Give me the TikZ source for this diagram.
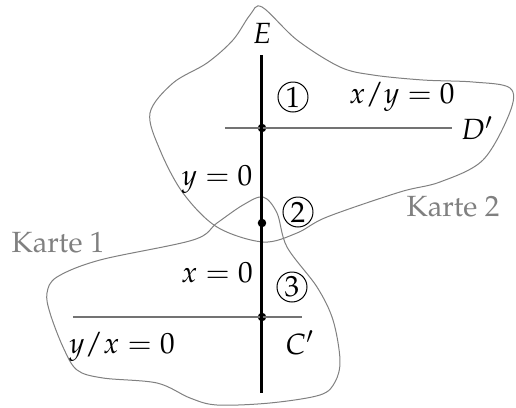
\documentclass[tikz,border=0pt]{standalone}
\usepackage[T1]{fontenc}
\usepackage{mathpazo}

\tikzset{
  >={stealth},   % Pfeilspitzen
  every node/.style={font=\fontsize{11.7}{14}\selectfont},
  karte/.style={gray, line width=0.4pt},
  achse/.style={black, line width=1.2pt},
  gerade/.style={black!55, line width=0.7pt},
  punkt/.style={circle, fill=black, inner sep=0pt, minimum size=3.4pt},
  nummer/.style={circle, draw, thin, inner sep=0.4pt, minimum size=12pt},
}

\begin{document}
\begin{tikzpicture}[x=0.4pt, y=-0.4pt]
\useasboundingbox (0,0) rectangle (516,408);

% Karte 2 (oben)
\draw[karte] plot[smooth cycle, tension=0.55] coordinates {
  (262,7) (297,40) (340,67) (373,75) (423,80) (473,82) (510,88)
  (510,112) (483,160) (440,182) (400,192) (327,217) (297,233)
  (263,242) (217,227) (183,193) (160,150) (150,113) (173,83)
  (207,63) (233,40) (250,15)};

% Karte 1 (unten)
\draw[karte] plot[smooth cycle, tension=0.55] coordinates {
  (263,197) (277,213) (287,247) (317,287) (333,320) (340,360)
  (335,382) (320,395) (270,403) (217,405) (190,398) (157,383)
  (103,378) (77,370) (63,347) (50,313) (47,293) (57,277)
  (100,260) (193,240) (217,223) (243,205)};

% Punkte auf E
\coordinate (oben) at (262,55);
\coordinate (unten) at (262,393);
\node[punkt] (p1) at (262,128) {};
\node[punkt] (p2) at (262,223) {};
\node[punkt] (p3) at (262,317) {};

% Geraden D' und C'
\coordinate (d1) at (225,128);
\coordinate (d2) at (452,128);
\coordinate (c1) at (73,317);
\coordinate (c2) at (302,317);
\draw[gerade] (d1) -- (d2);
\draw[gerade] (c1) -- (c2);

% E
\draw[achse] (oben) -- (unten);
\node (E) at (262,33) {$E$};

% Beschriftungen
\node[anchor=west] (D) at (d2) {$D'$};
\node (C) at (300,343) {$C'$};
\node (xy) at (402,97) {$x/y=0$};
\node (yx) at (122,347) {$y/x=0$};
\node (y0) at (217,180) {$y=0$};
\node (x0) at (217,273) {$x=0$};
\node[nummer] (n1) at (293,97) {1};
\node[nummer] (n2) at (298,212) {2};
\node[nummer] (n3) at (292,287) {3};
\node[gray] (k1) at (58,243) {Karte 1};
\node[gray] (k2) at (453,207) {Karte 2};

\end{tikzpicture}
\end{document}
